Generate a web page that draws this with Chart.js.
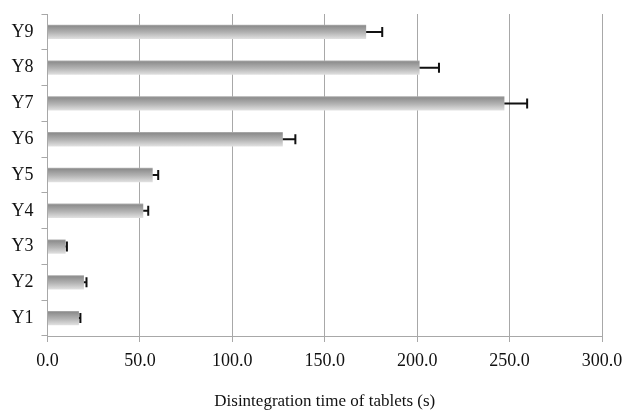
<!DOCTYPE html>
<html>
<head>
<meta charset="utf-8">
<script src="https://cdn.jsdelivr.net/npm/chart.js@4/dist/chart.umd.min.js"></script>
<style>
  html, body { margin: 0; padding: 0; background: #ffffff; overflow: hidden; }
  #wrap { width: 622px; height: 412px; position: relative; }
</style>
</head>
<body>
<div id="wrap"><canvas id="chart"></canvas></div>
<script>
// Tablet formulations, listed bottom to top
const categories = ['Y1', 'Y2', 'Y3', 'Y4', 'Y5', 'Y6', 'Y7', 'Y8', 'Y9'];
// Mean disintegration time (s)
const meanTime = [17.0, 19.7, 9.8, 51.8, 56.9, 127.3, 247.2, 201.3, 172.4];
// Standard deviation (s), drawn as a one-sided error bar
const sdTime = [0.8, 1.4, 0.7, 2.7, 3.0, 6.8, 12.3, 10.5, 8.7];
// Value axis ticks
const xTicks = [0, 50, 100, 150, 200, 250, 300];

const FONT = '"Liberation Serif", "Times New Roman", serif';

// Vertical grey gradient for each bar, darker along the top edge
function barGradient(context) {
  const chart = context.chart;
  const yScale = chart.scales.y;
  if (!yScale || !chart.chartArea) return '#b5b5b5';
  const yc = yScale.getPixelForValue(context.dataIndex);
  const half = 7.5;
  const g = chart.ctx.createLinearGradient(0, yc - half, 0, yc + half);
  g.addColorStop(0, '#b8b8b8');
  g.addColorStop(0.12, '#8e8e8e');
  g.addColorStop(0.55, '#b4b4b4');
  g.addColorStop(1, '#e4e4e4');
  return g;
}

// Draws the +SD whisker with an end cap at each bar's tip
const errorBars = {
  id: 'errorBars',
  afterDatasetsDraw(chart) {
    const { ctx, scales: { x, y } } = chart;
    ctx.save();
    ctx.strokeStyle = '#111111';
    ctx.lineWidth = 2;
    meanTime.forEach((v, i) => {
      const yc = y.getPixelForValue(i);
      const x0 = x.getPixelForValue(v);
      const x1 = x.getPixelForValue(v + sdTime[i]);
      ctx.beginPath();
      ctx.moveTo(x0, yc);
      ctx.lineTo(x1, yc);
      ctx.moveTo(x1, yc - 5);
      ctx.lineTo(x1, yc + 5);
      ctx.stroke();
    });
    ctx.restore();
  }
};

new Chart(document.getElementById('chart'), {
  type: 'bar',
  data: {
    labels: categories,
    datasets: [{
      data: meanTime,
      backgroundColor: barGradient,
      borderWidth: 0,
      categoryPercentage: 0.4,
      barPercentage: 1.0
    }]
  },
  options: {
    indexAxis: 'y',
    responsive: true,
    maintainAspectRatio: false,
    animation: false,
    layout: { padding: { top: 14, left: 3.5, right: 0, bottom: 0 } },
    plugins: {
      legend: { display: false },
      tooltip: { enabled: false }
    },
    scales: {
      x: {
        min: 0,
        max: 300,
        afterBuildTicks(scale) {
          scale.ticks = xTicks.map(v => ({ value: v }));
        },
        // the last tick label is allowed to run to the right edge
        afterFit(scale) {
          scale.paddingLeft = 0;
          scale.paddingRight = 20;
        },
        ticks: {
          color: '#111111',
          font: { family: FONT, size: 18 },
          padding: 8,
          maxRotation: 0,
          callback: v => Number(v).toFixed(1)
        },
        grid: {
          color: '#a8a8a8',
          lineWidth: 1,
          drawTicks: true,
          tickLength: 6
        },
        border: { color: '#a8a8a8', width: 1 },
        title: {
          display: true,
          text: 'Disintegration time of tablets (s)',
          color: '#111111',
          font: { family: FONT, size: 17 },
          padding: { top: 12, bottom: 0 }
        }
      },
      y: {
        reverse: true,
        afterFit(scale) {
          scale.paddingTop = 0;
          scale.paddingBottom = 0;
        },
        ticks: {
          color: '#111111',
          font: { family: FONT, size: 18 },
          padding: 8
        },
        grid: {
          color: '#a8a8a8',
          drawOnChartArea: false,
          drawTicks: true,
          tickLength: 6,
          offset: true
        },
        border: { color: '#a8a8a8', width: 1 }
      }
    }
  },
  plugins: [errorBars]
});
</script>
</body>
</html>
